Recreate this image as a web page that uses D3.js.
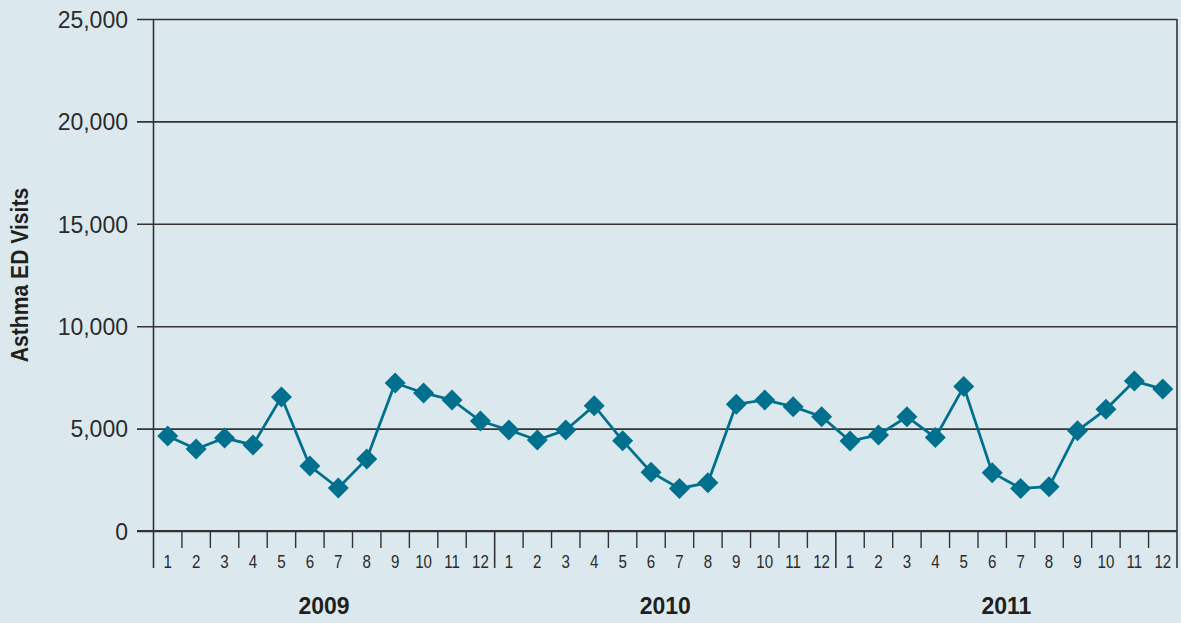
<!DOCTYPE html>
<html>
<head>
<meta charset="utf-8">
<script src="https://cdn.jsdelivr.net/npm/d3@7"></script>
<style>
  body { margin: 0; background: #dbe9ef; }
  svg { display: block; }
</style>
</head>
<body>
<svg id="chart" width="1181" height="623"></svg>
<script>
// data
var years = ["2009", "2010", "2011"];
var months = ["1","2","3","4","5","6","7","8","9","10","11","12"];
var visits2009 = [4640, 4000, 4540, 4200, 6540, 3170, 2100, 3520, 7230, 6740, 6400, 5370];
var visits2010 = [4930, 4440, 4930, 6120, 4410, 2870, 2080, 2360, 6190, 6400, 6070, 5580];
var visits2011 = [4390, 4690, 5580, 4560, 7050, 2850, 2080, 2160, 4900, 5940, 7320, 6930];
var yTicks = [0, 5000, 10000, 15000, 20000, 25000];

var svg = d3.select("#chart");
var plotL = 153.5, plotR = 1177, plotT = 19, plotB = 531;
var sans = "'Liberation Sans', Arial, sans-serif";

// flat list of months
var points = [];
[visits2009, visits2010, visits2011].forEach(function (arr, yi) {
  arr.forEach(function (v, mi) {
    points.push({ key: years[yi] + "-" + months[mi], year: years[yi], month: months[mi], value: v });
  });
});

var x = d3.scaleBand().domain(points.map(function (d) { return d.key; })).range([plotL, plotR]).padding(0);
var y = d3.scaleLinear().domain([0, 25000]).range([plotB, plotT]);

// grid lines + left ticks
svg.append("g")
  .attr("transform", "translate(137,0)")
  .call(d3.axisRight(y).tickValues(yTicks).tickSize(plotR - 137).tickFormat(""))
  .call(function (g) {
    g.select(".domain").remove();
    g.selectAll("line").attr("stroke", "#333").attr("stroke-width", 1.6);
  });

// y labels
svg.append("g")
  .attr("transform", "translate(137,0)")
  .call(d3.axisLeft(y).tickValues(yTicks).tickSize(0).tickPadding(9).tickFormat(d3.format(",")))
  .call(function (g) {
    g.select(".domain").remove();
    g.selectAll("text")
      .attr("font-family", sans)
      .attr("font-size", 23)
      .attr("fill", "#2b2b2b")
      .attr("dy", "0.36em");
  });

// vertical frame lines: y axis, year separators, right edge
var yearEdges = [0, 12, 24, 36].map(function (i) {
  return i < 36 ? x(points[i].key) : plotR;
});
svg.append("g").selectAll("line")
  .data(yearEdges)
  .join("line")
  .attr("x1", function (d) { return d; })
  .attr("x2", function (d) { return d; })
  .attr("y1", function (d, i) { return (i === 0 || i === 3) ? plotT : plotB; })
  .attr("y2", 568)
  .attr("stroke", "#333")
  .attr("stroke-width", 1.6);

// month tick marks
svg.append("g").selectAll("line")
  .data(points.filter(function (d, i) { return i % 12 !== 0; }))
  .join("line")
  .attr("x1", function (d) { return x(d.key); })
  .attr("x2", function (d) { return x(d.key); })
  .attr("y1", plotB)
  .attr("y2", 548)
  .attr("stroke", "#333")
  .attr("stroke-width", 1.4);

// month labels (condensed look via horizontal scale)
svg.append("g").selectAll("text")
  .data(points)
  .join("text")
  .attr("transform", function (d) {
    return "translate(" + (x(d.key) + x.bandwidth() / 2) + ",568) scale(0.84,1)";
  })
  .attr("text-anchor", "middle")
  .attr("font-family", sans)
  .attr("font-size", 18)
  .attr("fill", "#2b2b2b")
  .text(function (d) { return d.month; });

// zero axis line on top of grid
svg.append("line")
  .attr("x1", 137).attr("x2", plotR)
  .attr("y1", y(0)).attr("y2", y(0))
  .attr("stroke", "#333").attr("stroke-width", 1.8);

// year labels
svg.append("g").selectAll("text")
  .data(years)
  .join("text")
  .attr("x", function (d, i) { return (yearEdges[i] + yearEdges[i + 1]) / 2; })
  .attr("y", 614)
  .attr("text-anchor", "middle")
  .attr("font-family", sans)
  .attr("font-weight", "bold")
  .attr("font-size", 23)
  .attr("fill", "#231f20")
  .text(function (d) { return d; });

// y axis title
svg.append("text")
  .attr("transform", "translate(28,275) rotate(-90) scale(0.88,1)")
  .attr("text-anchor", "middle")
  .attr("font-family", sans)
  .attr("font-weight", "bold")
  .attr("font-size", 24)
  .attr("fill", "#231f20")
  .text("Asthma ED Visits");

// series line
var cx = function (d) { return x(d.key) + x.bandwidth() / 2; };
svg.append("path")
  .datum(points)
  .attr("fill", "none")
  .attr("stroke", "#00708e")
  .attr("stroke-width", 2.8)
  .attr("d", d3.line().x(cx).y(function (d) { return y(d.value); }));

// diamond markers
svg.append("g").selectAll("path")
  .data(points)
  .join("path")
  .attr("transform", function (d) { return "translate(" + cx(d) + "," + y(d.value) + ")"; })
  .attr("d", "M0,-10.5L10.5,0L0,10.5L-10.5,0Z")
  .attr("fill", "#00708e");
</script>
</body>
</html>
